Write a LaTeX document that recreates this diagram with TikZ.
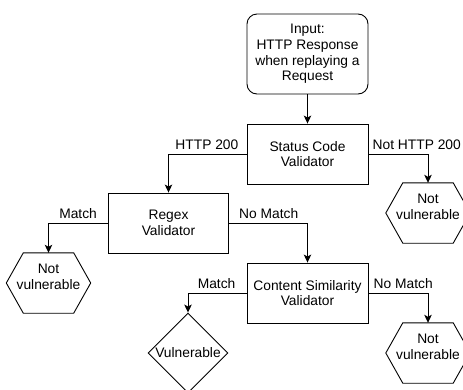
\documentclass[tikz,border=0pt]{standalone}
\usepackage{fontspec}
\setmainfont{Liberation Sans}
\usetikzlibrary{arrows.meta,shapes.geometric}
\begin{document}
\begin{tikzpicture}[x=1pt,y=-1pt,
  every node/.style={font=\fontsize{13.8}{15.7}\selectfont, align=center},
  procbox/.style={draw, line width=0.9pt, minimum width=121pt, minimum height=60pt, inner sep=0pt},
  hexbox/.style={minimum width=84pt, minimum height=60pt, inner sep=0pt},
  diabox/.style={draw, line width=0.9pt, diamond, minimum width=80pt, minimum height=80pt, inner sep=0pt},
  arr/.style={line width=0.9pt, -{Stealth[length=8pt,width=7.5pt,inset=2pt]}},
  lbl/.style={inner sep=0pt}
]
\useasboundingbox (0,0) rectangle (463,389);

\node[procbox, rounded corners=10pt, minimum height=80pt] (input) at (307.5,54) {Input:\\HTTP Response\\when replaying a\\Request};
\node[procbox] (status) at (307.5,154) {Status Code\\Validator};
\node[procbox, minimum width=120pt] (regex) at (168.5,223) {Regex\\Validator};
\node[procbox] (content) at (307.5,293) {Content Similarity\\Validator};

\node[hexbox, label={[yshift=6.5pt,align=center]center:Not\\vulnerable}] (nv1) at (428,213) {};
\node[hexbox, label={[yshift=6.5pt,align=center]center:Not\\vulnerable}] (nv2) at (48.5,283) {};
\node[hexbox, label={[yshift=6.5pt,align=center]center:Not\\vulnerable}] (nv3) at (428,353) {};
\foreach \n in {nv1,nv2,nv3}
  \draw[line width=0.9pt] ([xshift=17pt]\n.north west) -- ([xshift=-17pt]\n.north east) -- (\n.east)
    -- ([xshift=-17pt]\n.south east) -- ([xshift=17pt]\n.south west) -- (\n.west) -- cycle;

\node[diabox] (vuln) at (188,353) {Vulnerable};

\draw[arr] (input.south) -- (status.north);
\draw[arr] (status.west) -| (regex.north);
\draw[arr] (status.east) -| (nv1.north);
\draw[arr] (regex.west) -| (nv2.north);
\draw[arr] (regex.east) -| (content.north);
\draw[arr] (content.west) -| (vuln.north);
\draw[arr] (content.east) -| (nv3.north);

\node[lbl, anchor=base east] (l1) at ([xshift=-8pt,yshift=4.5pt]status.west) {HTTP 200};
\node[lbl, anchor=base west] (l2) at ([xshift=4pt,yshift=4.5pt]status.east) {Not HTTP 200};
\node[lbl, anchor=base east] (l3) at ([xshift=-11pt,yshift=4.5pt]regex.west) {Match};
\node[lbl, anchor=base west] (l4) at ([xshift=10pt,yshift=4.5pt]regex.east) {No Match};
\node[lbl, anchor=base east] (l5) at ([xshift=-11pt,yshift=4.5pt]content.west) {Match};
\node[lbl, anchor=base west] (l6) at ([xshift=5pt,yshift=4.5pt]content.east) {No Match};
\end{tikzpicture}
\end{document}
